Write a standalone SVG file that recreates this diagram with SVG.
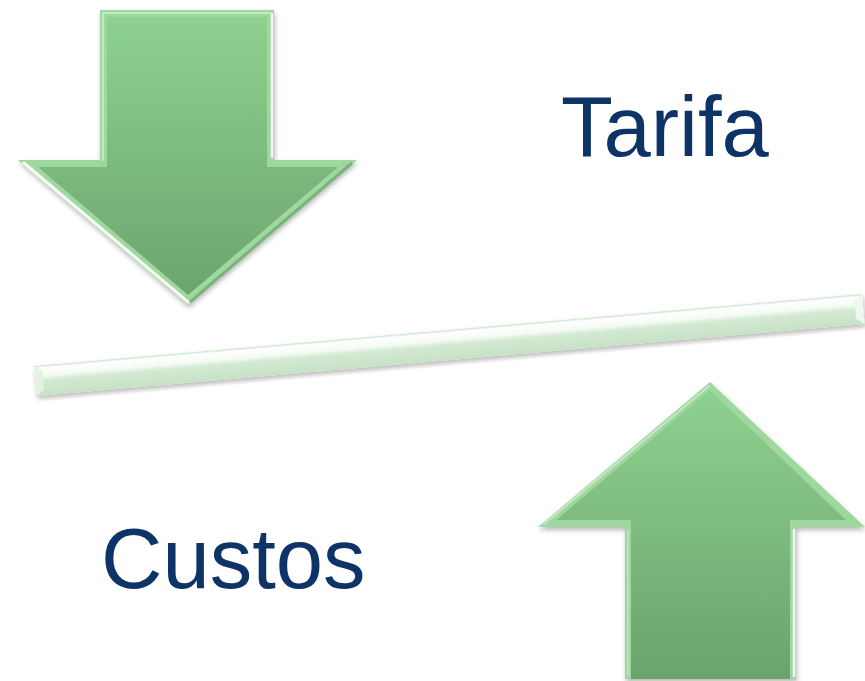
<svg xmlns="http://www.w3.org/2000/svg" width="865" height="681" viewBox="0 0 865 681">
  <defs>
    <linearGradient id="gDown" x1="0" y1="10" x2="0" y2="305" gradientUnits="userSpaceOnUse">
      <stop offset="0" stop-color="#8fd290"/>
      <stop offset="1" stop-color="#6ba36c"/>
    </linearGradient>
    <linearGradient id="gUp" x1="0" y1="382" x2="0" y2="679" gradientUnits="userSpaceOnUse">
      <stop offset="0" stop-color="#8fd290"/>
      <stop offset="1" stop-color="#6ba36c"/>
    </linearGradient>
    <linearGradient id="gBar" x1="0" y1="0" x2="0" y2="1">
      <stop offset="0" stop-color="#c4e2c4"/>
      <stop offset="0.08" stop-color="#ffffff"/>
      <stop offset="0.35" stop-color="#f3faf3"/>
      <stop offset="0.5" stop-color="#d2e9d2"/>
      <stop offset="1" stop-color="#c7e2c7"/>
    </linearGradient>
    <filter id="sh" x="-10%" y="-10%" width="120%" height="130%">
      <feDropShadow dx="1" dy="3" stdDeviation="2.5" flood-color="#000" flood-opacity="0.28"/>
    </filter>
    <style>
      .lbl { font-family: "Liberation Sans", Arial, sans-serif; font-size: 85px; fill: #0e3467; }
      .bevel { fill: #9fd89f; }
      .hl { stroke: #ffffff; stroke-linecap: round; fill: none; }
    </style>
  </defs>

  <g id="arrow-down">
    <polygon filter="url(#sh)" class="bevel" points="100,10 274,10 274,160 357,160 188,305 18,160 100,160"/>
    <polygon fill="url(#gDown)" points="107,17 267,17 267,167 338,167 188,295 38,167 107,167"/>
    <polyline class="hl" stroke-width="3" stroke-opacity="0.9" points="24,163 188,302"/>
    <polyline class="hl" stroke-width="2.5" stroke-opacity="0.85" points="272,14 272,157"/>
    <polyline class="hl" stroke-width="2" stroke-opacity="0.4" points="103,160 103,13 270,13"/>
    <polyline stroke="#79b47a" stroke-width="3" fill="none" points="352,163 190,302"/>
  </g>

  <g id="balance-bar">
    <g transform="translate(34,366) rotate(-4.97)">
      <rect filter="url(#sh)" x="0" y="0" width="831" height="30" fill="url(#gBar)"/>
      <polygon points="0,0 8,6 8,24 0,30" fill="#e4f2e4"/>
      <polygon points="831,0 823,6 823,24 831,30" fill="#eef8ee"/>
    </g>
  </g>

  <g id="arrow-up">
    <polygon filter="url(#sh)" class="bevel" points="710,382 865,527 796,527 796,679 625,679 625,527 538,527"/>
    <polygon fill="url(#gUp)" points="710,390 846,520 790,520 790,679 631,679 631,520 556,520"/>
    <polyline class="hl" stroke-width="2.5" stroke-opacity="0.85" points="794,530 794,676"/>
    <polyline class="hl" stroke-width="2" stroke-opacity="0.4" points="544,524 709,386"/>
    <polyline class="hl" stroke-width="1.5" stroke-opacity="0.4" points="628,530 628,676"/>
  </g>

  <g id="label-tarifa">
    <text class="lbl" x="561" y="156">Tarifa</text>
  </g>
  <g id="label-custos">
    <text class="lbl" x="101" y="588">Custos</text>
  </g>
</svg>
